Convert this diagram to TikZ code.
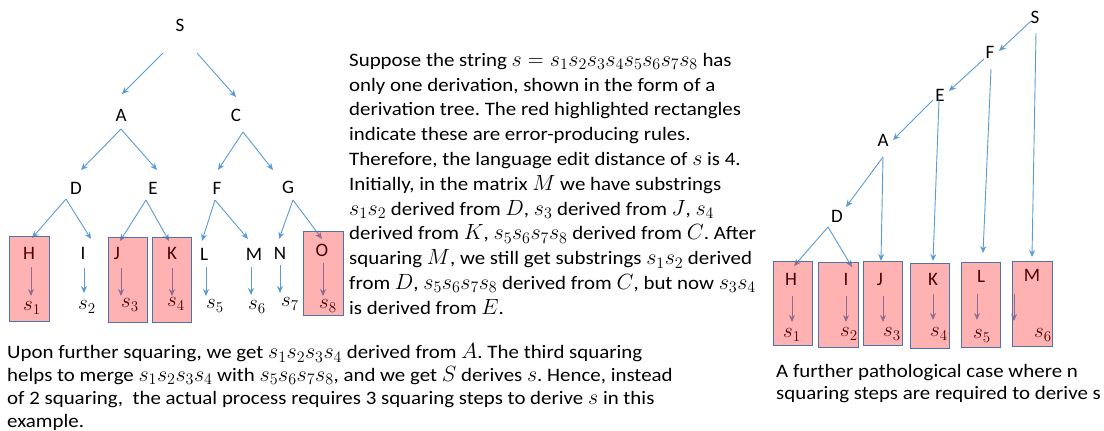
\RequirePackage{fix-cm}
\documentclass[tikz,border=0pt]{standalone}
\usepackage{fontspec}
\setmainfont{Carlito}
\newfontfamily\bodyfont{Carlito}[FakeStretch=1.1]
\DeclareMathSizes{19}{22}{16}{12}
\DeclareMathSizes{21}{21}{15}{11}
\frenchspacing
\usetikzlibrary{arrows.meta,calc}
\definecolor{arr}{HTML}{5B9BD5}
\definecolor{bx}{HTML}{4F72AA}
\tikzset{
  lab/.style={inner sep=0pt, font=\fontsize{19}{21}\selectfont},
  sym/.style={inner sep=0pt, font=\fontsize{21}{23}\selectfont},
  arw/.style={draw=arr, line width=0.9pt, -{Stealth[length=7pt,width=6pt]}},
  errbox/.style={draw=bx, line width=1pt, fill=red, fill opacity=0.3},
  para/.style={inner sep=0pt, anchor=north west, align=left},
}
\begin{document}
\begin{tikzpicture}[x=1pt,y=-1pt]
\useasboundingbox (0,0) rectangle (1104,431);
% ---------- left tree ----------
\node[lab] (S) at (180,25) {S};
\node[lab] (A) at (121,115) {A};
\node[lab] (C) at (236,115) {C};
\node[lab] (D) at (76,188) {D};
\node[lab] (E) at (153,188) {E};
\node[lab] (F) at (217,188) {F};
\node[lab] (G) at (288,187) {G};
\node[lab] (H) at (29,253) {H};
\node[lab] (I) at (83,253) {I};
\node[lab] (J) at (117,253) {J};
\node[lab] (K) at (172,253) {K};
\node[lab] (L) at (204,254) {L};
\node[lab] (M) at (254,254) {M};
\node[lab] (N) at (280,253) {N};
\node[lab] (O) at (322,250) {O};
\node[sym] (s1) at (32,308) {$s_1$};
\node[sym] (s2) at (87,307) {$s_2$};
\node[sym] (s3) at (130,305) {$s_3$};
\node[sym] (s4) at (176,304) {$s_4$};
\node[sym] (s5) at (215,306) {$s_5$};
\node[sym] (s6) at (257,307) {$s_6$};
\node[sym] (s7) at (290,304) {$s_7$};
\node[sym] (s8) at (328,306) {$s_8$};

\draw[arw] ($(S)+(-17,28)$) -- ($(A)+(1,-21)$);
\draw[arw] ($(S)+(17,28)$) -- ($(C)+(0,-18)$);
\draw[arw] ($(A)+(0,14)$) -- ($(D)+(5,-18)$);
\draw[arw] ($(A)+(0,14)$) -- ($(E)+(4,-18)$);
\draw[arw] ($(C)+(7,17)$) -- ($(F)+(1,-18)$);
\draw[arw] ($(C)+(7,17)$) -- ($(G)+(-15,-17)$);
\draw[arw] ($(D)+(-10,11)$) -- ($(H)+(3,-15)$);
\draw[arw] ($(D)+(-10,11)$) -- ($(I)+(8,-14)$);
\draw[arw] ($(E)+(-7,12)$) -- ($(J)+(3,-12)$);
\draw[arw] ($(E)+(-7,12)$) -- ($(K)+(-3,-12)$);
\draw[arw] ($(F)+(-2,12)$) -- ($(L)+(-2,-13)$);
\draw[arw] ($(F)+(-2,12)$) -- ($(M)+(-6,-15)$);
\draw[arw] ($(G)+(5,13)$) -- ($(N)+(-1,-14)$);
\draw[arw] ($(G)+(5,13)$) -- ($(O)+(0,-11)$);

\draw[arw] ($(H)+(2,14)$) -- ($(s1)+(-1,-12)$);
\draw[arw] ($(I)+(1,15)$) -- ($(s2)+(-3,-14)$);
\draw[arw] ($(J)+(4,15)$) -- ($(s3)+(-9,-9)$);
\draw[arw] ($(K)+(0,15)$) -- ($(s4)+(-4,-8)$);
\draw[arw] ($(L)+(2,13)$) -- ($(s5)+(-9,-10)$);
\draw[arw] ($(M)+(-3,13)$) -- ($(s6)+(-6,-12)$);
\draw[arw] ($(N)+(0,12)$) -- ($(s7)+(-10,-11)$);
\draw[arw] ($(O)+(1,13)$) -- ($(s8)+(-5,-10)$);

\path[errbox] (9,236) rectangle (49,321);
\path[errbox] (108,237) rectangle (147,322);
\path[errbox] (152,237) rectangle (191,322);
\path[errbox] (303,231) rectangle (343,315);

% ---------- paragraphs ----------
\node[para, font=\bodyfont\fontsize{19}{24.8}\selectfont] (txt1) at (349,53) {%
Suppose the string $s=s_1s_2s_3s_4s_5s_6s_7s_8$ has\\
only one derivation, shown in the form of a\\
derivation tree. The red highlighted rectangles\\
indicate these are error-producing rules.\\
Therefore, the language edit distance of $s$ is 4.\\
Initially, in the matrix $M$ we have substrings\\
$s_1s_2$ derived from $D$, $s_3$ derived from $J$, $s_4$\\
derived from $K$, $s_5s_6s_7s_8$ derived from $C$. After\\
squaring $M$, we still get substrings $s_1s_2$ derived\\
from $D$, $s_5s_6s_7s_8$ derived from $C$, but now $s_3s_4$\\
is derived from $E$.};

\node[para, font=\bodyfont\fontsize{19}{22.8}\selectfont] (txt2) at (7,343.5) {%
Upon further squaring, we get $s_1s_2s_3s_4$ derived from $A$. The third squaring\\
helps to merge $s_1s_2s_3s_4$ with $s_5s_6s_7s_8$, and we get $S$ derives $s$. Hence, instead\\
of 2 squaring,\ \ the actual process requires 3 squaring steps to derive $s$ in this\\
example.};

\node[para, font=\bodyfont\fontsize{19}{22}\selectfont] (txt3) at (776,364) {%
A further pathological case where n\\
squaring steps are required to derive s};

% ---------- right tree ----------
\node[lab] (rS) at (1035,17) {S};
\node[lab] (rF) at (990,52) {F};
\node[lab] (rE) at (940,95) {E};
\node[lab] (rA) at (883,140) {A};
\node[lab] (rD) at (837,216) {D};
\node[lab] (rH) at (791,279) {H};
\node[lab] (rI) at (846,279) {I};
\node[lab] (rJ) at (880,279) {J};
\node[lab] (rK) at (933,279) {K};
\node[lab] (rL) at (981,276) {L};
\node[lab] (rM) at (1032,275) {M};
\node[sym] (rs1) at (792,335) {$s_1$};
\node[sym] (rs2) at (849,334) {$s_2$};
\node[sym] (rs3) at (892,334) {$s_3$};
\node[sym] (rs4) at (939,334) {$s_4$};
\node[sym] (rs5) at (982,336) {$s_5$};
\node[sym] (rs6) at (1043,335) {$s_6$};

\draw[arw] ($(rS)+(-4,4)$) -- ($(rF)+(9,-1)$);
\draw[arw] ($(rS)+(1,16)$) -- ($(rM)+(0,-18)$);
\draw[arw] ($(rF)+(-6,7)$) -- ($(rE)+(9,-4)$);
\draw[arw] ($(rF)+(1,17)$) -- ($(rL)+(2,-23)$);
\draw[arw] ($(rE)+(-7,5)$) -- ($(rA)+(10,0)$);
\draw[arw] ($(rE)+(-1,5)$) -- ($(rK)+(0,-18)$);
\draw[arw] ($(rA)+(0,17)$) -- ($(rD)+(9,-9)$);
\draw[arw] ($(rA)+(0,17)$) -- ($(rJ)+(1,-18)$);
\draw[arw] ($(rD)+(-9,11)$) -- ($(rH)+(3,-13)$);
\draw[arw] ($(rD)+(-9,11)$) -- ($(rI)+(6,-12)$);

\draw[arw] ($(rH)+(1,17)$) -- ($(rs1)+(0,-13)$);
\draw[arw] ($(rI)+(0,17)$) -- ($(rs2)+(-3,-12)$);
\draw[arw] ($(rJ)+(3,17)$) -- ($(rs3)+(-9,-12)$);
\draw[arw] ($(rK)+(0,15)$) -- ($(rs4)+(-6,-14)$);
\draw[arw] ($(rL)+(-4,18)$) -- ($(rs5)+(-5,-16)$);
\draw[arw] ($(rM)+(-18,19)$) -- ($(rs6)+(-29,-14)$);

\path[errbox] (773,261) rectangle (812,345);
\path[errbox] (818,262) rectangle (858,347);
\path[errbox] (863,261) rectangle (902,345);
\path[errbox] (910,263) rectangle (949,348);
\path[errbox] (961,262) rectangle (1000,347);
\path[errbox] (1012,261) rectangle (1052,346);
\end{tikzpicture}
\end{document}
